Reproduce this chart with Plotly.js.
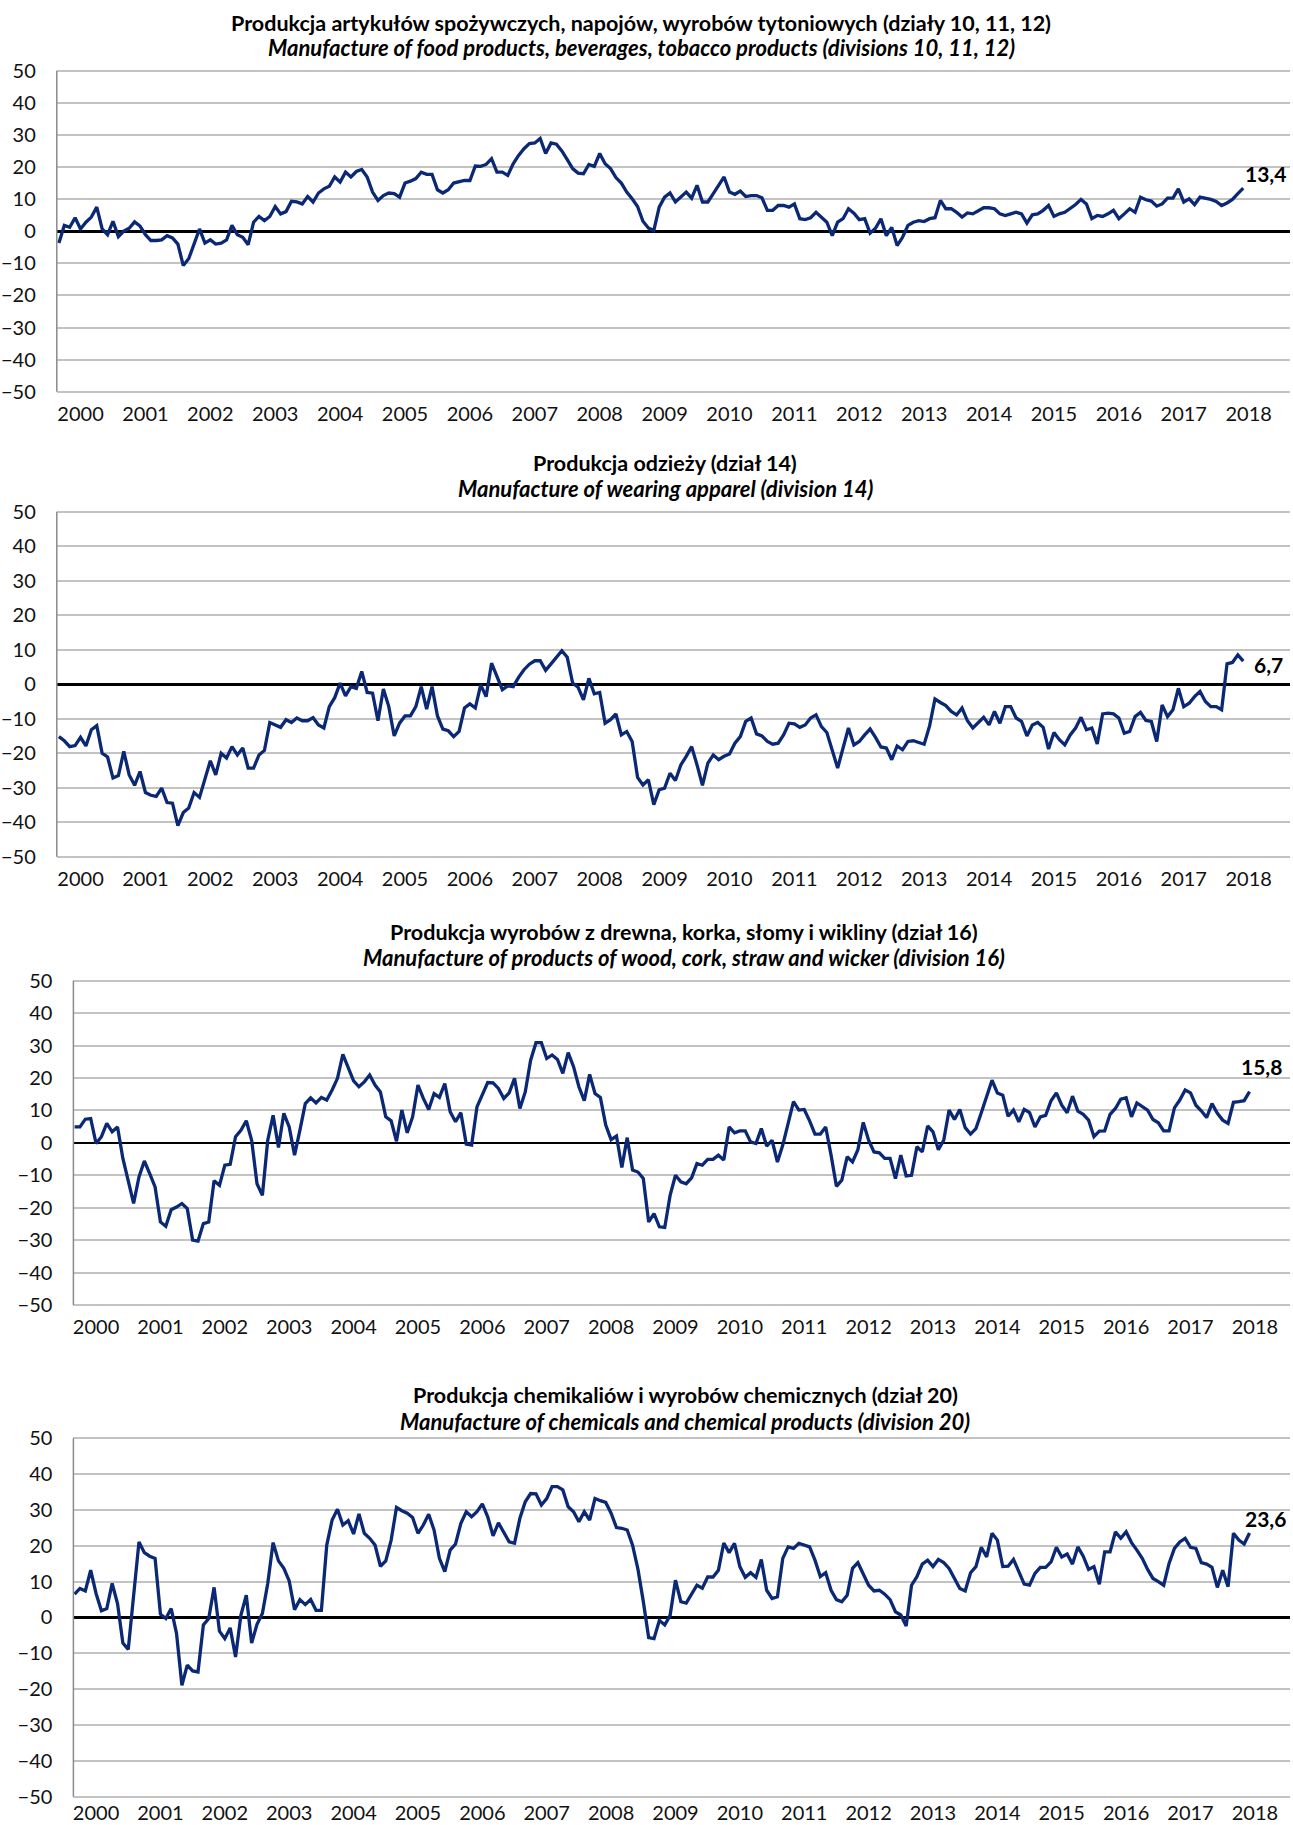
<!DOCTYPE html>
<html>
<head>
<meta charset="utf-8">
<script src="https://cdn.plot.ly/plotly-3.0.1.min.js"></script>
<style>
  html, body { margin: 0; padding: 0; background: #ffffff; }
  #chart { width: 1293px; height: 1825px; }
</style>
</head>
<body>
<div id="chart"></div>
<script>
// ---------------- DATA ----------------
const startYear = 2000;          // first month: January 2000
const yearLabels = ["2000","2001","2002","2003","2004","2005","2006","2007","2008","2009",
                    "2010","2011","2012","2013","2014","2015","2016","2017","2018"];

const titlesPL = [
  "Produkcja artykułów spożywczych, napojów, wyrobów tytoniowych (działy 10, 11, 12)",
  "Produkcja odzieży (dział 14)",
  "Produkcja wyrobów z drewna, korka, słomy i wikliny (dział 16)",
  "Produkcja chemikaliów i wyrobów chemicznych (dział 20)"
];
const titlesEN = [
  "Manufacture of food products, beverages, tobacco products (divisions 10, 11, 12)",
  "Manufacture of wearing apparel (division 14)",
  "Manufacture of products of wood, cork, straw and wicker (division 16)",
  "Manufacture of chemicals and chemical products (division 20)"
];

// Division 10, 11, 12 – food, beverages, tobacco
const food = [
  -3.7, 1.8, 1.2, 4.2, 0.7, 2.8, 4.4, 7.5, 0.7, -1.1, 3.1, -1.7,
  0.0, 0.9, 2.9, 1.6, -1.1, -2.9, -2.9, -2.7, -1.4, -2.1, -4.0, -10.7,
  -8.6, -4.0, 0.7, -3.7, -2.7, -4.0, -3.7, -2.7, 1.8, -1.1, -1.9, -4.2,
  2.8, 4.6, 3.3, 4.6, 7.7, 5.4, 6.1, 9.3, 9.1, 8.5, 10.8, 9.1,
  11.9, 13.2, 14.0, 16.9, 15.3, 18.4, 16.9, 18.6, 19.2, 16.9, 12.2, 9.6,
  11.1, 11.9, 11.7, 10.6, 15.0, 15.6, 16.4, 18.4, 17.7, 17.7, 12.9, 11.9,
  12.9, 15.0, 15.5, 15.8, 15.8, 20.3, 20.2, 20.8, 22.6, 18.4, 18.4, 17.4,
  21.0, 23.6, 25.7, 27.3, 27.5, 28.9, 24.2, 27.5, 27.1, 25.0, 22.3, 19.5,
  18.1, 17.9, 20.8, 20.2, 24.2, 21.0, 19.5, 16.7, 15.0, 12.2, 10.1, 7.7,
  3.1, 1.0, 0.2, 7.5, 10.6, 11.9, 9.1, 10.6, 12.2, 10.3, 14.3, 9.1,
  9.1, 11.7, 14.3, 16.9, 12.2, 11.5, 12.5, 10.8, 11.1, 11.1, 10.4, 6.5,
  6.5, 8.0, 8.0, 7.5, 8.5, 3.9, 3.6, 4.2, 5.9, 4.4, 2.8, -1.4,
  2.8, 3.9, 7.0, 5.6, 3.6, 3.9, -0.6, 0.9, 3.9, -1.4, 1.2, -4.5,
  -1.9, 1.8, 2.8, 3.3, 3.0, 3.9, 4.2, 9.6, 7.0, 7.0, 5.9, 4.4,
  5.7, 5.4, 6.3, 7.3, 7.3, 7.0, 5.4, 4.9, 5.4, 5.9, 5.4, 2.5,
  5.1, 5.4, 6.5, 8.0, 4.6, 5.4, 5.9, 7.0, 8.3, 9.9, 8.5, 3.9,
  4.9, 4.6, 5.4, 6.5, 3.9, 5.4, 7.0, 5.9, 10.6, 9.8, 9.4, 7.8,
  8.5, 10.3, 10.3, 13.2, 9.1, 10.1, 8.3, 10.6, 10.3, 9.9, 9.3, 8.0,
  8.8, 9.9, 11.7, 13.4
];

// Division 14 – wearing apparel
const apparel = [
  -15.2, -16.4, -18.1, -17.8, -15.4, -17.9, -13.2, -12.0, -20.0, -21.1, -27.2, -26.5,
  -19.5, -26.3, -29.3, -25.3, -31.4, -32.2, -32.5, -30.1, -34.3, -34.5, -41.0, -37.2,
  -35.9, -31.4, -32.8, -27.2, -22.2, -26.3, -20.0, -21.4, -18.1, -20.5, -18.5, -24.3,
  -24.3, -20.5, -19.2, -11.1, -11.8, -12.5, -10.3, -11.1, -9.8, -10.6, -10.6, -9.7,
  -11.8, -12.7, -6.5, -3.9, 0.3, -3.4, -0.7, -1.2, 3.7, -2.4, -2.6, -10.6,
  -1.4, -6.5, -15.0, -11.3, -9.2, -9.2, -6.5, -0.7, -7.2, -0.7, -9.2, -13.0,
  -13.5, -15.2, -13.7, -6.9, -5.7, -6.9, -0.2, -3.6, 6.1, 2.2, -1.6, -0.5,
  -0.7, 2.0, 4.2, 5.8, 6.8, 6.8, 4.0, 5.9, 7.8, 9.7, 7.8, 0.3,
  -0.9, -4.5, 1.7, -2.8, -2.4, -11.3, -10.3, -8.6, -14.7, -13.7, -16.6, -27.0,
  -29.2, -27.7, -34.9, -30.6, -30.1, -25.8, -27.9, -23.4, -20.9, -18.1, -23.4, -29.3,
  -22.9, -20.5, -21.9, -20.9, -20.2, -17.1, -15.2, -10.8, -9.8, -14.4, -15.0, -16.6,
  -17.4, -17.1, -14.7, -11.3, -11.5, -12.5, -11.8, -9.8, -8.9, -12.3, -14.0, -19.0,
  -24.3, -18.5, -12.7, -17.6, -16.6, -14.7, -13.0, -15.4, -18.2, -18.5, -21.9, -17.9,
  -19.0, -16.6, -16.4, -16.9, -17.4, -12.1, -4.3, -5.3, -6.2, -7.9, -8.9, -6.9,
  -10.6, -12.7, -11.1, -9.6, -11.8, -7.9, -11.3, -6.5, -6.5, -9.8, -10.8, -15.0,
  -11.8, -11.1, -12.5, -18.8, -14.0, -16.1, -17.6, -14.7, -12.7, -9.6, -13.2, -12.7,
  -17.3, -8.6, -8.4, -8.6, -9.8, -14.2, -13.7, -9.4, -8.2, -10.5, -10.8, -16.6,
  -6.0, -9.4, -7.4, -1.2, -6.5, -5.5, -3.6, -2.1, -5.0, -6.5, -6.5, -7.4,
  5.9, 6.3, 8.5, 6.7
];

// Division 16 – wood, cork, straw and wicker
const wood = [
  4.9, 4.9, 7.3, 7.5, -0.2, 1.9, 6.0, 3.4, 4.9, -4.8, -11.7, -18.7,
  -10.5, -5.6, -9.5, -13.6, -24.4, -25.7, -20.6, -19.8, -18.7, -20.3, -30.0, -30.3,
  -24.9, -24.4, -11.7, -13.1, -6.9, -6.6, 1.9, 3.9, 6.8, 0.8, -12.6, -16.2,
  0.8, 8.5, -1.4, 9.1, 4.9, -3.8, 3.9, 12.1, 13.9, 12.3, 14.0, 13.2,
  16.3, 19.9, 27.3, 22.9, 19.1, 17.3, 18.8, 20.9, 17.8, 15.7, 8.0, 6.8,
  0.5, 10.1, 3.1, 8.0, 17.8, 13.7, 10.3, 15.2, 14.0, 18.3, 9.6, 6.5,
  9.3, -0.4, -0.7, 11.1, 15.0, 18.6, 18.5, 16.8, 13.7, 15.4, 19.9, 10.6,
  15.7, 25.5, 30.9, 30.9, 26.0, 27.1, 25.7, 21.4, 27.8, 23.5, 17.3, 13.0,
  21.1, 15.2, 14.0, 5.5, 1.0, 2.1, -7.6, 1.6, -8.4, -9.0, -11.0, -24.4,
  -21.8, -25.9, -26.1, -16.2, -10.0, -12.0, -12.6, -10.8, -6.4, -6.9, -5.1, -5.1,
  -3.8, -5.3, 4.9, 3.1, 3.7, 3.7, 0.3, -0.2, 4.4, -1.0, 0.8, -5.9,
  -0.7, 6.0, 12.7, 10.1, 10.3, 6.8, 2.7, 2.7, 4.9, -3.8, -13.4, -11.5,
  -4.3, -5.9, -2.1, 6.3, 0.8, -2.8, -3.1, -4.8, -4.8, -11.0, -3.8, -10.2,
  -10.0, -1.2, -2.8, 5.2, 3.4, -2.1, 0.8, 10.1, 7.2, 10.3, 4.7, 2.7,
  4.4, 9.3, 14.7, 19.3, 15.4, 14.7, 8.2, 10.1, 6.5, 10.3, 9.3, 4.9,
  8.0, 8.5, 13.0, 15.4, 11.6, 9.3, 14.4, 9.8, 8.8, 7.0, 1.9, 3.6,
  3.7, 8.8, 10.6, 13.5, 13.9, 8.0, 12.3, 11.3, 10.1, 7.2, 6.2, 3.7,
  3.7, 10.8, 13.2, 16.3, 15.4, 11.6, 9.9, 7.8, 12.1, 9.1, 7.0, 6.0,
  12.5, 12.7, 13.0, 15.8
];

// Division 20 – chemicals and chemical products
const chemicals = [
  6.5, 8.1, 7.4, 13.2, 6.7, 1.9, 2.5, 9.5, 3.9, -7.1, -8.9, 7.2,
  21.1, 18.1, 17.1, 16.5, 0.9, -0.3, 2.5, -4.5, -18.9, -13.3, -14.9, -15.2,
  -2.1, -0.3, 8.4, -3.8, -5.9, -2.9, -11.0, 0.7, 6.2, -7.1, -1.9, 1.1,
  9.5, 20.9, 15.8, 13.7, 10.2, 2.2, 5.0, 3.6, 5.0, 2.0, 2.0, 20.2,
  27.2, 30.2, 25.8, 27.0, 23.3, 28.9, 23.5, 22.1, 20.2, 14.3, 15.8, 21.6,
  30.7, 29.8, 29.1, 27.9, 23.5, 25.8, 28.8, 24.4, 16.5, 12.8, 18.8, 20.5,
  26.3, 29.5, 28.1, 29.5, 31.7, 28.1, 22.8, 26.4, 23.9, 21.1, 20.7, 27.7,
  32.3, 34.6, 34.5, 31.4, 33.2, 36.5, 36.5, 35.6, 30.9, 29.5, 26.7, 29.5,
  27.2, 33.2, 32.6, 32.1, 29.1, 25.1, 24.9, 24.4, 20.2, 13.5, 4.5, -5.6,
  -5.9, -0.8, -2.1, 0.6, 10.4, 4.4, 4.0, 6.5, 9.0, 8.2, 11.3, 11.3,
  13.2, 20.8, 18.1, 20.7, 14.2, 11.2, 12.5, 11.2, 16.2, 7.6, 5.3, 5.8,
  16.5, 19.7, 19.3, 20.7, 20.2, 19.7, 16.0, 11.4, 12.5, 7.6, 5.0, 4.4,
  6.2, 13.7, 15.3, 12.3, 9.0, 7.4, 7.6, 6.5, 5.0, 1.6, 0.7, -2.4,
  9.0, 11.4, 14.9, 16.0, 14.2, 16.2, 15.3, 13.7, 10.9, 8.1, 7.4, 12.5,
  14.2, 19.6, 16.9, 23.5, 21.6, 14.2, 14.3, 16.2, 12.8, 9.3, 9.0, 12.3,
  14.0, 14.0, 15.5, 19.6, 16.9, 17.7, 14.9, 19.7, 17.1, 13.4, 14.2, 9.3,
  18.3, 18.3, 23.9, 22.1, 23.9, 20.9, 18.8, 16.5, 13.4, 10.9, 10.0, 9.0,
  15.1, 19.3, 21.1, 22.1, 19.6, 19.3, 15.3, 14.9, 14.0, 8.4, 13.2, 8.6,
  23.5, 21.6, 20.5, 23.6
];

// ---------------- LAYOUT ----------------
const W = 1293, H = 1825;
const navy = "#0b2875";
const fontFam = "Lato, 'Open Sans', sans-serif";

// panel pixel geometry: left edge of plot, right edge, y of +50 line, y of -50 line,
// first-point x, pixels per month
const panels = [
  {series: food,      left: 56.8, right: 1290, top: 70.7,   bot: 391.7,  x0: 58.9, ppm: 5.408,
   tx: 641, ty1: 23,   ty2: 48,   lxs: 22, lys: 15, xtl: 2},
  {series: apparel,   left: 56.8, right: 1290, top: 511.7,  bot: 856.7,  x0: 58.9, ppm: 5.408,
   tx: 665, ty1: 463,  ty2: 489,  lxs: 25, lys: -3, xtl: 2},
  {series: wood,      left: 73.4, right: 1290, top: 980.7,  bot: 1305.0, x0: 74.6, ppm: 5.365,
   tx: 684, ty1: 932,  ty2: 957,  lxs: 12, lys: 25, xtl: 2},
  {series: chemicals, left: 73.4, right: 1290, top: 1438.3, bot: 1796.7, x0: 74.6, ppm: 5.365,
   tx: 685, ty1: 1395, ty2: 1421, lxs: 16, lys: 14, xtl: 0}
];

const traces = [];
const layout = {
  width: W, height: H,
  margin: {l: 0, r: 0, t: 0, b: 0, pad: 0},
  paper_bgcolor: "#ffffff",
  plot_bgcolor: "#ffffff",
  showlegend: false,
  font: {family: fontFam, size: 20, color: "#111111"},
  annotations: [],
  shapes: []
};

const tickVals = yearLabels.map(y => (parseInt(y, 10) - startYear) * 12 + 4);
const pad = 0.6; // extra units beyond +/-50 so boundary grid lines are drawn

panels.forEach((p, k) => {
  const n = k + 1;
  const xa = n === 1 ? "xaxis" : "xaxis" + n;
  const ya = n === 1 ? "yaxis" : "yaxis" + n;
  const xr = n === 1 ? "x" : "x" + n;
  const yr = n === 1 ? "y" : "y" + n;

  const xIdx = p.series.map((_, i) => i);
  traces.push({
    type: "scatter", mode: "lines",
    x: xIdx, y: p.series,
    xaxis: xr, yaxis: yr,
    line: {color: navy, width: 3.3},
    hoverinfo: "skip"
  });

  const ppu = (p.bot - p.top) / 100;
  const yTopPx = p.top - pad * ppu;
  const yBotPx = p.bot + pad * ppu;
  const xStart = -(p.x0 - p.left) / p.ppm;
  const xEnd = (p.right - p.x0) / p.ppm;

  layout[xa] = {
    domain: [p.left / W, p.right / W],
    anchor: yr,
    range: [xStart, xEnd],
    showgrid: false, zeroline: false, showline: false,
    tickmode: "array", tickvals: tickVals, ticktext: yearLabels,
    ticks: p.xtl > 0 ? "outside" : "", ticklen: p.xtl, tickcolor: "rgba(0,0,0,0)",
    tickfont: {family: fontFam, size: 20, color: "#111111"},
    automargin: false, fixedrange: true
  };
  layout[ya] = {
    domain: [1 - yBotPx / H, 1 - yTopPx / H],
    anchor: xr,
    range: [-50 - pad, 50 + pad],
    tickmode: "linear", tick0: -50, dtick: 10,
    showgrid: true, gridcolor: "#c3c3c3", gridwidth: 2,
    zeroline: true, zerolinecolor: "#000000", zerolinewidth: 2.6,
    showline: false,
    ticks: "outside", ticklen: 16, tickcolor: "rgba(0,0,0,0)",
    tickfont: {family: fontFam, size: 20, color: "#111111"},
    automargin: false, fixedrange: true
  };

  // left vertical axis line from -50 to +50
  layout.shapes.push({
    type: "line", xref: "paper", yref: "paper",
    x0: p.left / W, x1: p.left / W,
    y0: 1 - p.bot / H, y1: 1 - p.top / H,
    line: {color: "#8a8a8a", width: 1.5}
  });

  // titles
  layout.annotations.push({
    xref: "paper", yref: "paper", x: p.tx / W, y: 1 - p.ty1 / H,
    xanchor: "center", yanchor: "middle", showarrow: false,
    text: "<b>" + titlesPL[k] + "</b>",
    font: {family: fontFam, size: 21.5, color: "#000000"}
  });
  layout.annotations.push({
    xref: "paper", yref: "paper", x: p.tx / W, y: 1 - p.ty2 / H,
    xanchor: "center", yanchor: "middle", showarrow: false,
    text: "<b><i>" + titlesEN[k] + "</i></b>",
    font: {family: fontFam, size: 22, color: "#000000"}
  });

  // last value label
  const lastI = p.series.length - 1;
  const lastV = p.series[lastI];
  layout.annotations.push({
    xref: xr, yref: yr, x: lastI, y: lastV,
    xanchor: "center", yanchor: "middle", showarrow: false,
    xshift: p.lxs, yshift: p.lys,
    text: "<b>" + lastV.toFixed(1).replace(".", ",") + "</b>",
    font: {family: fontFam, size: 21, color: "#000000"}
  });
});

Plotly.newPlot("chart", traces, layout, {staticPlot: true, displayModeBar: false});
</script>
</body>
</html>
